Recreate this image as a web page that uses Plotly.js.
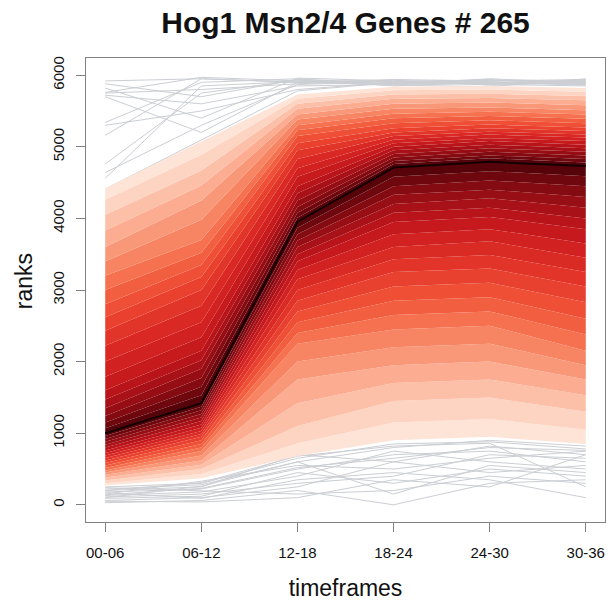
<!DOCTYPE html>
<html>
<head>
<meta charset="utf-8">
<script src="https://cdn.plot.ly/plotly-3.0.1.min.js"></script>
<style>
  html, body { margin: 0; padding: 0; background: #fff; }
  #chart { width: 608px; height: 601px; }
</style>
</head>
<body>
<div id="chart"></div>
<script>
// Time windows (hours after stimulus)
const timeframes = ["00-06", "06-12", "12-18", "18-24", "24-30", "30-36"];
const xpos = [1, 2, 3, 4, 5, 6];
const yTicks = [0, 1000, 2000, 3000, 4000, 5000, 6000];

// Quantile levels of the fan, lowest first
const qLevels = [0.01, 0.025, 0.05, 0.075, 0.10, 0.125, 0.15, 0.175, 0.20, 0.225,
                 0.25, 0.275, 0.30, 0.325, 0.35, 0.375, 0.40, 0.425, 0.45, 0.475,
                 0.50, 0.525, 0.55, 0.575, 0.60, 0.625, 0.65, 0.675, 0.70, 0.725,
                 0.75, 0.775, 0.80, 0.825, 0.85, 0.875, 0.90, 0.925, 0.95, 0.975, 0.99];

// Rank quantiles of the 265 Hog1 Msn2/4 genes, one list per time window
const ranks_00_06 = [270, 300, 340, 380, 420, 450, 480, 515, 550, 585,
                     620, 655, 690, 725, 760, 800, 840, 880, 920, 960,
                     1000, 1070, 1150, 1240, 1350, 1470, 1600, 1790, 2000, 2220,
                     2430, 2620, 2800, 3000, 3200, 3400, 3600, 3830, 4050, 4260, 4420];
const ranks_06_12 = [370, 430, 500, 560, 620, 690, 750, 800, 850, 900,
                     950, 990, 1030, 1075, 1120, 1170, 1220, 1270, 1320, 1370,
                     1420, 1530, 1650, 1770, 1900, 2020, 2150, 2340, 2550, 2780,
                     3000, 3180, 3350, 3520, 3700, 3980, 4250, 4460, 4670, 4890, 5080];
const ranks_12_18 = [680, 860, 1100, 1420, 1750, 2000, 2250, 2400, 2550, 2700,
                     2850, 3000, 3150, 3280, 3400, 3500, 3600, 3690, 3780, 3870,
                     3950, 4010, 4080, 4160, 4250, 4350, 4450, 4580, 4700, 4830,
                     4950, 5050, 5150, 5230, 5300, 5380, 5450, 5530, 5600, 5670, 5730];
const ranks_18_24 = [900, 1150, 1450, 1700, 1950, 2200, 2450, 2650, 2850, 3050,
                     3250, 3430, 3600, 3780, 3950, 4080, 4200, 4330, 4450, 4580,
                     4710, 4760, 4800, 4850, 4900, 4950, 5000, 5050, 5100, 5150,
                     5200, 5260, 5330, 5400, 5460, 5530, 5600, 5670, 5730, 5790, 5840];
const ranks_24_30 = [950, 1200, 1500, 1750, 2000, 2250, 2500, 2700, 2900, 3100,
                     3300, 3490, 3680, 3850, 4020, 4150, 4280, 4400, 4530, 4660,
                     4790, 4840, 4880, 4930, 4980, 5030, 5080, 5120, 5170, 5210,
                     5260, 5310, 5370, 5430, 5490, 5550, 5620, 5680, 5740, 5800, 5850];
const ranks_30_36 = [850, 1050, 1300, 1530, 1750, 1950, 2150, 2380, 2600, 2830,
                     3050, 3250, 3450, 3650, 3850, 4000, 4150, 4300, 4450, 4590,
                     4730, 4780, 4830, 4880, 4930, 4980, 5030, 5080, 5130, 5170,
                     5220, 5270, 5330, 5390, 5450, 5510, 5580, 5650, 5710, 5770, 5820];

// Individual genes ranked above the 99% quantile at some point
const highGenes = [
  [5920, 5950, 5900, 5920, 5930, 5910],
  [5880, 5700, 5940, 5900, 5880, 5920],
  [5760, 5970, 5920, 5880, 5900, 5870],
  [5750, 5800, 5880, 5930, 5860, 5900],
  [5720, 5600, 5850, 5870, 5940, 5880],
  [5340, 5900, 5950, 5850, 5900, 5930],
  [5300, 5500, 5800, 5900, 5870, 5850],
  [5160, 5950, 5900, 5940, 5920, 5940],
  [4760, 5750, 5930, 5880, 5950, 5900],
  [4640, 5300, 5870, 5910, 5890, 5870],
  [4560, 5850, 5910, 5860, 5840, 5950],
  [4410, 5100, 5780, 5900, 5930, 5890],
  [5820, 5400, 5960, 5920, 5910, 5860],
  [5700, 5200, 5900, 5870, 5880, 5920]
];

// Individual genes ranked below the 1% quantile at some point
const lowGenes = [
  [250, 300, 650, 850, 880, 780],
  [220, 280, 600, 800, 900, 820],
  [200, 250, 700, 600, 820, 700],
  [180, 220, 500, 700, 750, 600],
  [150, 330, 550, 500, 650, 750],
  [130, 180, 400, 750, 600, 500],
  [110, 150, 300, 400, 700, 650],
  [90, 120, 450, 300, 500, 400],
  [60, 100, 250, 600, 450, 550],
  [30, 60, 200, 0, 300, 350],
  [240, 200, 150, 200, 400, 300],
  [170, 90, 350, 450, 350, 100],
  [100, 260, 600, 150, 550, 450],
  [50, 40, 100, 350, 250, 700],
  [200, 310, 680, 820, 860, 250],
  [140, 230, 520, 650, 800, 760]
];

const byTime = [ranks_00_06, ranks_06_12, ranks_12_18, ranks_18_24, ranks_24_30, ranks_30_36];

// Colour ramp: distance from the median (0 .. 0.5) -> shade of red
const rampStops = [
  [0.00, [74, 0, 8]], [0.05, [122, 10, 16]], [0.10, [160, 15, 21]],
  [0.15, [192, 22, 27]], [0.20, [214, 36, 34]], [0.25, [230, 58, 43]],
  [0.30, [241, 86, 57]], [0.35, [246, 122, 86]], [0.40, [250, 162, 133]],
  [0.45, [252, 201, 180]], [0.49, [254, 233, 223]], [0.50, [255, 245, 240]]
];
function shade(d) {
  for (let k = 1; k < rampStops.length; k++) {
    const [d1, c1] = rampStops[k];
    const [d0, c0] = rampStops[k - 1];
    if (d <= d1) {
      const t = (d - d0) / (d1 - d0);
      const c = c0.map((v, j) => Math.round(v + t * (c1[j] - v)));
      return `rgb(${c[0]},${c[1]},${c[2]})`;
    }
  }
  return "rgb(255,245,240)";
}

const traces = [];

highGenes.concat(lowGenes).forEach(g => {
  traces.push({
    x: xpos, y: g, type: "scatter", mode: "lines",
    line: { color: "#cbced3", width: 1 },
    hoverinfo: "skip", showlegend: false
  });
});

qLevels.forEach((p, i) => {
  const curve = byTime.map(t => t[i]);
  let fillcolor;
  if (i > 0) {
    const mid = (qLevels[i - 1] + p) / 2;
    fillcolor = shade(Math.abs(mid - 0.5));
  }
  traces.push({
    x: xpos, y: curve, type: "scatter", mode: "lines",
    line: { width: 0, color: fillcolor || "#fff" },
    fill: i === 0 ? "none" : "tonexty",
    fillcolor: fillcolor,
    hoverinfo: "skip", showlegend: false
  });
});

// Median rank
const median = byTime.map(t => t[qLevels.indexOf(0.50)]);
traces.push({
  x: xpos, y: median, type: "scatter", mode: "lines",
  line: { color: "#140000", width: 2 },
  showlegend: false
});

const fontFamily = "Liberation Sans, Arial, sans-serif";
const axisFont = { family: fontFamily, size: 15, color: "#111" };

const layout = {
  width: 608, height: 601,
  margin: { l: 86, r: 3, t: 58, b: 79 },
  paper_bgcolor: "#fff", plot_bgcolor: "#fff",
  showlegend: false,
  title: {
    text: "<b>Hog1 Msn2/4 Genes # 265</b>",
    font: { family: fontFamily, size: 30, color: "#111" },
    x: 0.5, xref: "paper", xanchor: "center",
    y: 0.962, yref: "container", yanchor: "middle"
  },
  xaxis: {
    range: [0.8, 6.2], tickvals: xpos, ticktext: timeframes,
    showgrid: false, zeroline: false,
    showline: true, mirror: true, linecolor: "#808080", linewidth: 1,
    ticks: "outside", ticklen: 9, tickcolor: "#808080",
    tickfont: axisFont, ticklabelstandoff: 8,
    title: { text: "timeframes", font: { family: fontFamily, size: 23, color: "#111" }, standoff: 19 }
  },
  yaxis: {
    range: [-240, 6240], tickvals: yTicks, ticktext: yTicks.map(String),
    tickangle: -90,
    showgrid: false, zeroline: false,
    showline: true, mirror: true, linecolor: "#808080", linewidth: 1,
    ticks: "outside", ticklen: 9, tickcolor: "#808080",
    tickfont: axisFont, ticklabelstandoff: 6
  },
  annotations: [{
    text: "ranks", textangle: -90,
    font: { family: fontFamily, size: 23, color: "#111" },
    xref: "paper", yref: "paper",
    x: -0.1195, y: 0.519, xanchor: "center", yanchor: "middle",
    showarrow: false
  }]
};

Plotly.newPlot("chart", traces, layout, { displayModeBar: false, staticPlot: true });
</script>
</body>
</html>
